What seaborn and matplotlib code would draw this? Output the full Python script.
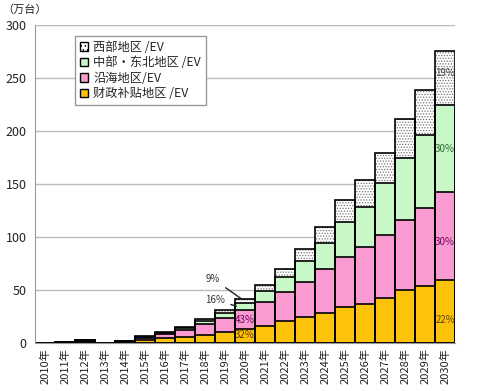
import numpy as np
import pandas as pd
import matplotlib
matplotlib.use("Agg")
import matplotlib.pyplot as plt
import seaborn as sns
from matplotlib.patches import Patch

# ── data (万台) ───────────────────────────────────────────────
years = [f"{y}年" for y in range(2010, 2031)]
subsidy = [0, 0.3, 1.0, 0, 0.6, 2.5, 4.5, 5.5, 7.5, 10.7, 13.2, 15.7, 20.8, 24.8, 28.6, 34.2, 36.5, 42.2, 50.0, 53.8, 59.4]
coastal = [0, 0.3, 1.0, 0, 0.6, 2.5, 3.5, 6.5, 10.5, 12.6, 17.7, 23.3, 27.6, 33.0, 40.9, 47.2, 53.8, 59.7, 66.0, 73.8, 83.3]
central = [0, 0.2, 0.5, 0, 0.4, 1.0, 1.5, 2.0, 2.5, 4.7, 6.6, 9.6, 13.6, 19.8, 24.5, 33.0, 38.3, 48.8, 58.8, 68.6, 81.8]
western = [0, 0.2, 0.5, 0, 0.4, 0.8, 1.2, 1.4, 1.8, 3.0, 3.7, 6.2, 7.8, 10.8, 15.7, 20.6, 25.2, 28.3, 36.2, 42.5, 51.3]

series_names = ["西部地区 /EV", "中部·东北地区 /EV", "沿海地区/EV", "财政补贴地区 /EV"]
pct_2020 = ["32%", "43%", "16%", "9%"]
pct_2030 = ["22%", "30%", "30%", "19%"]

c_yellow = "#fcc30a"
c_pink = "#f99ad0"
c_green = "#c8f7c8"

df = pd.DataFrame({"year": years, "s1": subsidy, "s2": coastal, "s3": central, "s4": western})
df["c1"] = df["s1"]
df["c2"] = df["c1"] + df["s2"]
df["c3"] = df["c2"] + df["s3"]
df["c4"] = df["c3"] + df["s4"]

sns.set_style("white")
plt.rcParams["font.family"] = ["Noto Sans CJK SC", "DejaVu Sans"]
plt.rcParams["hatch.linewidth"] = 0.6

fig = plt.figure(figsize=(4.8, 3.91), dpi=100)
ax = fig.add_axes([0.073, 0.123, 0.875, 0.813])

# western layer (dotted) then stacks on top, outline last
sns.barplot(data=df, x="year", y="c4", color="white", edgecolor="#777777", linewidth=0,
            hatch="......", width=1, saturation=1, errorbar=None, ax=ax)
for col, c in [("c3", c_green), ("c2", c_pink), ("c1", c_yellow)]:
    sns.barplot(data=df, x="year", y=col, color=c, edgecolor="black", linewidth=1.2,
                width=1, saturation=1, errorbar=None, ax=ax)
sns.barplot(data=df, x="year", y="c4", fill=False, color="black", linewidth=1.2,
            width=1, saturation=1, errorbar=None, ax=ax)

ax.set_xlim(-0.5, 20.5)
ax.set_ylim(0, 300)
ax.set_yticks(range(0, 301, 50))
ax.set_xlabel("")
ax.set_ylabel("")
ax.yaxis.grid(True, color="#bbbbbb", linewidth=1)
ax.set_axisbelow(True)
for s in ["top", "right"]:
    ax.spines[s].set_visible(False)
ax.spines["left"].set_color("#999999")
ax.spines["bottom"].set_color("#999999")
ax.tick_params(axis="both", length=0)
ax.tick_params(axis="y", labelsize=9, pad=6, labelcolor="#222222")
ax.tick_params(axis="x", labelsize=8, labelrotation=90, labelcolor="#222222")

# percentage labels
i20, i30 = years.index("2020年"), years.index("2030年")
ax.text(i20, df.loc[i20, "c1"] / 2 + 0.5, pct_2020[0], ha="center", va="center", fontsize=7, color="#663300")
ax.text(i20, (df.loc[i20, "c1"] + df.loc[i20, "c2"]) / 2, pct_2020[1], ha="center", va="center", fontsize=7, color="#7a0060")
ax.annotate(pct_2020[2], xy=(i20 - 0.3, 34), xytext=(8.5, 40.5), fontsize=7, color="#333333",
            ha="center", va="center", arrowprops=dict(arrowstyle="-", color="#222222", lw=1))
ax.annotate(pct_2020[3], xy=(i20 - 0.1, 40.5), xytext=(8.4, 60.5), fontsize=7, color="#333333",
            ha="center", va="center", arrowprops=dict(arrowstyle="-", color="#222222", lw=1))

cols30 = ["#664400", "#7a0060", "#2e6b2e", "#444444"]
ypos = [21.7, 95, 183, 254.7]
for t, y, c in zip(pct_2030, ypos, cols30):
    ax.text(i30, y, t, ha="center", va="center", fontsize=7, color=c)

# legend
handles = [
    Patch(facecolor="white", edgecolor="black", hatch="....", label=series_names[0]),
    Patch(facecolor=c_green, edgecolor="black", label=series_names[1]),
    Patch(facecolor=c_pink, edgecolor="black", label=series_names[2]),
    Patch(facecolor=c_yellow, edgecolor="black", label=series_names[3]),
]
leg = ax.legend(handles=handles, loc="upper left", bbox_to_anchor=(0.08, 0.985), fontsize=8.8,
                handlelength=0.7, handleheight=0.7, handletextpad=0.4, labelspacing=0.2,
                borderpad=0.4, fancybox=False, framealpha=1, edgecolor="#999999")

fig.text(0.005, 0.99, "（万台）", ha="left", va="top", fontsize=8, color="#222222")

fig.savefig("out.png", dpi=100)
